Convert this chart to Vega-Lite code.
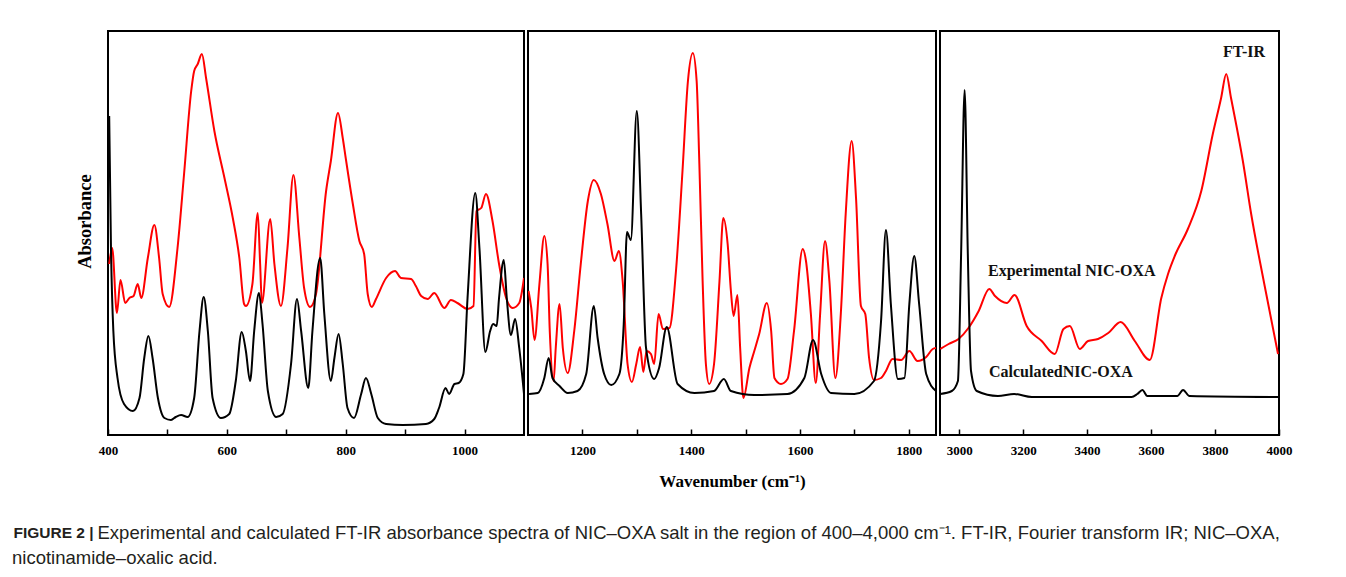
{
  "$schema": "https://vega.github.io/schema/vega-lite/v6.json",
  "background": "white",
  "padding": {"left": 12, "top": 30, "right": 5, "bottom": 5},
  "datasets": {
    "p1": [
      {"w":402,"a":171,"s":"Experimental"},{"w":407,"a":187,"s":"Experimental"},{"w":415,"a":122,"s":"Experimental"},{"w":421,"a":155,"s":"Experimental"},{"w":429,"a":132,"s":"Experimental"},{"w":436,"a":137,"s":"Experimental"},{"w":443,"a":139,"s":"Experimental"},{"w":450,"a":151,"s":"Experimental"},{"w":456,"a":137,"s":"Experimental"},{"w":467,"a":177,"s":"Experimental"},{"w":478,"a":210,"s":"Experimental"},{"w":486,"a":177,"s":"Experimental"},{"w":492,"a":141,"s":"Experimental"},{"w":503,"a":128,"s":"Experimental"},{"w":517,"a":187,"s":"Experimental"},{"w":528,"a":261,"s":"Experimental"},{"w":540,"a":344,"s":"Experimental"},{"w":545,"a":364,"s":"Experimental"},{"w":551,"a":371,"s":"Experimental"},{"w":558,"a":381,"s":"Experimental"},{"w":565,"a":357,"s":"Experimental"},{"w":579,"a":304,"s":"Experimental"},{"w":596,"a":257,"s":"Experimental"},{"w":610,"a":217,"s":"Experimental"},{"w":621,"a":177,"s":"Experimental"},{"w":629,"a":131,"s":"Experimental"},{"w":632,"a":129,"s":"Experimental"},{"w":643,"a":151,"s":"Experimental"},{"w":652,"a":222,"s":"Experimental"},{"w":656,"a":171,"s":"Experimental"},{"w":659,"a":132,"s":"Experimental"},{"w":673,"a":216,"s":"Experimental"},{"w":680,"a":171,"s":"Experimental"},{"w":691,"a":129,"s":"Experimental"},{"w":702,"a":187,"s":"Experimental"},{"w":712,"a":260,"s":"Experimental"},{"w":722,"a":197,"s":"Experimental"},{"w":730,"a":147,"s":"Experimental"},{"w":740,"a":128,"s":"Experimental"},{"w":750,"a":141,"s":"Experimental"},{"w":767,"a":244,"s":"Experimental"},{"w":775,"a":274,"s":"Experimental"},{"w":787,"a":322,"s":"Experimental"},{"w":795,"a":297,"s":"Experimental"},{"w":800,"a":277,"s":"Experimental"},{"w":812,"a":231,"s":"Experimental"},{"w":823,"a":194,"s":"Experimental"},{"w":831,"a":181,"s":"Experimental"},{"w":837,"a":141,"s":"Experimental"},{"w":844,"a":128,"s":"Experimental"},{"w":851,"a":136,"s":"Experimental"},{"w":868,"a":157,"s":"Experimental"},{"w":883,"a":164,"s":"Experimental"},{"w":893,"a":157,"s":"Experimental"},{"w":910,"a":156,"s":"Experimental"},{"w":918,"a":149,"s":"Experimental"},{"w":927,"a":139,"s":"Experimental"},{"w":938,"a":136,"s":"Experimental"},{"w":949,"a":142,"s":"Experimental"},{"w":966,"a":127,"s":"Experimental"},{"w":977,"a":135,"s":"Experimental"},{"w":988,"a":132,"s":"Experimental"},{"w":1005,"a":126,"s":"Experimental"},{"w":1015,"a":129,"s":"Experimental"},{"w":1020,"a":224,"s":"Experimental"},{"w":1028,"a":227,"s":"Experimental"},{"w":1036,"a":241,"s":"Experimental"},{"w":1047,"a":214,"s":"Experimental"},{"w":1058,"a":171,"s":"Experimental"},{"w":1070,"a":137,"s":"Experimental"},{"w":1081,"a":127,"s":"Experimental"},{"w":1092,"a":132,"s":"Experimental"},{"w":1100,"a":157,"s":"Experimental"},
      {"w":402,"a":319,"s":"Calculated"},{"w":405,"a":187,"s":"Calculated"},{"w":409,"a":104,"s":"Calculated"},{"w":416,"a":57,"s":"Calculated"},{"w":427,"a":31,"s":"Calculated"},{"w":442,"a":24,"s":"Calculated"},{"w":453,"a":37,"s":"Calculated"},{"w":461,"a":77,"s":"Calculated"},{"w":468,"a":99,"s":"Calculated"},{"w":475,"a":77,"s":"Calculated"},{"w":484,"a":37,"s":"Calculated"},{"w":495,"a":17,"s":"Calculated"},{"w":506,"a":15,"s":"Calculated"},{"w":514,"a":18,"s":"Calculated"},{"w":523,"a":20,"s":"Calculated"},{"w":534,"a":18,"s":"Calculated"},{"w":545,"a":37,"s":"Calculated"},{"w":554,"a":104,"s":"Calculated"},{"w":561,"a":138,"s":"Calculated"},{"w":568,"a":104,"s":"Calculated"},{"w":576,"a":37,"s":"Calculated"},{"w":590,"a":17,"s":"Calculated"},{"w":604,"a":21,"s":"Calculated"},{"w":615,"a":54,"s":"Calculated"},{"w":625,"a":103,"s":"Calculated"},{"w":632,"a":84,"s":"Calculated"},{"w":639,"a":54,"s":"Calculated"},{"w":646,"a":104,"s":"Calculated"},{"w":654,"a":142,"s":"Calculated"},{"w":660,"a":111,"s":"Calculated"},{"w":669,"a":44,"s":"Calculated"},{"w":683,"a":18,"s":"Calculated"},{"w":694,"a":21,"s":"Calculated"},{"w":708,"a":71,"s":"Calculated"},{"w":718,"a":136,"s":"Calculated"},{"w":725,"a":104,"s":"Calculated"},{"w":737,"a":47,"s":"Calculated"},{"w":744,"a":104,"s":"Calculated"},{"w":757,"a":177,"s":"Calculated"},{"w":764,"a":121,"s":"Calculated"},{"w":775,"a":54,"s":"Calculated"},{"w":781,"a":77,"s":"Calculated"},{"w":788,"a":101,"s":"Calculated"},{"w":795,"a":71,"s":"Calculated"},{"w":803,"a":27,"s":"Calculated"},{"w":814,"a":17,"s":"Calculated"},{"w":826,"a":41,"s":"Calculated"},{"w":834,"a":57,"s":"Calculated"},{"w":843,"a":41,"s":"Calculated"},{"w":854,"a":17,"s":"Calculated"},{"w":868,"a":11,"s":"Calculated"},{"w":896,"a":10,"s":"Calculated"},{"w":935,"a":11,"s":"Calculated"},{"w":949,"a":16,"s":"Calculated"},{"w":957,"a":27,"s":"Calculated"},{"w":968,"a":47,"s":"Calculated"},{"w":974,"a":41,"s":"Calculated"},{"w":983,"a":51,"s":"Calculated"},{"w":990,"a":52,"s":"Calculated"},{"w":998,"a":61,"s":"Calculated"},{"w":1005,"a":137,"s":"Calculated"},{"w":1018,"a":242,"s":"Calculated"},{"w":1025,"a":187,"s":"Calculated"},{"w":1035,"a":83,"s":"Calculated"},{"w":1043,"a":104,"s":"Calculated"},{"w":1048,"a":111,"s":"Calculated"},{"w":1054,"a":109,"s":"Calculated"},{"w":1058,"a":137,"s":"Calculated"},{"w":1066,"a":175,"s":"Calculated"},{"w":1071,"a":137,"s":"Calculated"},{"w":1078,"a":100,"s":"Calculated"},{"w":1085,"a":116,"s":"Calculated"},{"w":1092,"a":87,"s":"Calculated"},{"w":1100,"a":41,"s":"Calculated"}
    ],
    "p2": [
      {"w":1101,"a":144,"s":"Experimental"},{"w":1106,"a":127,"s":"Experimental"},{"w":1112,"a":95,"s":"Experimental"},{"w":1121,"a":151,"s":"Experimental"},{"w":1130,"a":199,"s":"Experimental"},{"w":1136,"a":171,"s":"Experimental"},{"w":1140,"a":104,"s":"Experimental"},{"w":1147,"a":54,"s":"Experimental"},{"w":1151,"a":87,"s":"Experimental"},{"w":1158,"a":131,"s":"Experimental"},{"w":1164,"a":87,"s":"Experimental"},{"w":1173,"a":62,"s":"Experimental"},{"w":1185,"a":104,"s":"Experimental"},{"w":1197,"a":171,"s":"Experimental"},{"w":1210,"a":234,"s":"Experimental"},{"w":1221,"a":255,"s":"Experimental"},{"w":1234,"a":241,"s":"Experimental"},{"w":1246,"a":211,"s":"Experimental"},{"w":1259,"a":174,"s":"Experimental"},{"w":1267,"a":184,"s":"Experimental"},{"w":1274,"a":154,"s":"Experimental"},{"w":1283,"a":71,"s":"Experimental"},{"w":1291,"a":53,"s":"Experimental"},{"w":1299,"a":71,"s":"Experimental"},{"w":1306,"a":88,"s":"Experimental"},{"w":1312,"a":63,"s":"Experimental"},{"w":1318,"a":84,"s":"Experimental"},{"w":1326,"a":81,"s":"Experimental"},{"w":1332,"a":71,"s":"Experimental"},{"w":1340,"a":121,"s":"Experimental"},{"w":1348,"a":106,"s":"Experimental"},{"w":1360,"a":107,"s":"Experimental"},{"w":1372,"a":164,"s":"Experimental"},{"w":1384,"a":264,"s":"Experimental"},{"w":1394,"a":354,"s":"Experimental"},{"w":1403,"a":382,"s":"Experimental"},{"w":1410,"a":354,"s":"Experimental"},{"w":1415,"a":271,"s":"Experimental"},{"w":1421,"a":154,"s":"Experimental"},{"w":1427,"a":71,"s":"Experimental"},{"w":1433,"a":51,"s":"Experimental"},{"w":1442,"a":71,"s":"Experimental"},{"w":1452,"a":154,"s":"Experimental"},{"w":1459,"a":217,"s":"Experimental"},{"w":1467,"a":191,"s":"Experimental"},{"w":1473,"a":144,"s":"Experimental"},{"w":1478,"a":119,"s":"Experimental"},{"w":1485,"a":140,"s":"Experimental"},{"w":1490,"a":87,"s":"Experimental"},{"w":1496,"a":37,"s":"Experimental"},{"w":1507,"a":67,"s":"Experimental"},{"w":1516,"a":84,"s":"Experimental"},{"w":1525,"a":101,"s":"Experimental"},{"w":1539,"a":132,"s":"Experimental"},{"w":1547,"a":104,"s":"Experimental"},{"w":1553,"a":57,"s":"Experimental"},{"w":1565,"a":51,"s":"Experimental"},{"w":1577,"a":56,"s":"Experimental"},{"w":1589,"a":104,"s":"Experimental"},{"w":1605,"a":186,"s":"Experimental"},{"w":1611,"a":174,"s":"Experimental"},{"w":1620,"a":121,"s":"Experimental"},{"w":1629,"a":52,"s":"Experimental"},{"w":1637,"a":121,"s":"Experimental"},{"w":1646,"a":194,"s":"Experimental"},{"w":1654,"a":154,"s":"Experimental"},{"w":1665,"a":57,"s":"Experimental"},{"w":1675,"a":121,"s":"Experimental"},{"w":1684,"a":221,"s":"Experimental"},{"w":1695,"a":294,"s":"Experimental"},{"w":1703,"a":237,"s":"Experimental"},{"w":1712,"a":129,"s":"Experimental"},{"w":1720,"a":121,"s":"Experimental"},{"w":1727,"a":77,"s":"Experimental"},{"w":1736,"a":55,"s":"Experimental"},{"w":1749,"a":57,"s":"Experimental"},{"w":1758,"a":64,"s":"Experimental"},{"w":1770,"a":76,"s":"Experimental"},{"w":1786,"a":75,"s":"Experimental"},{"w":1801,"a":84,"s":"Experimental"},{"w":1816,"a":74,"s":"Experimental"},{"w":1832,"a":78,"s":"Experimental"},{"w":1844,"a":86,"s":"Experimental"},{"w":1850,"a":87,"s":"Experimental"},
      {"w":1102,"a":41,"s":"Calculated"},{"w":1118,"a":42,"s":"Calculated"},{"w":1130,"a":57,"s":"Calculated"},{"w":1138,"a":77,"s":"Calculated"},{"w":1145,"a":57,"s":"Calculated"},{"w":1158,"a":49,"s":"Calculated"},{"w":1173,"a":42,"s":"Calculated"},{"w":1191,"a":44,"s":"Calculated"},{"w":1207,"a":61,"s":"Calculated"},{"w":1221,"a":129,"s":"Calculated"},{"w":1228,"a":97,"s":"Calculated"},{"w":1240,"a":61,"s":"Calculated"},{"w":1253,"a":50,"s":"Calculated"},{"w":1268,"a":61,"s":"Calculated"},{"w":1276,"a":111,"s":"Calculated"},{"w":1282,"a":203,"s":"Calculated"},{"w":1289,"a":195,"s":"Calculated"},{"w":1300,"a":324,"s":"Calculated"},{"w":1308,"a":221,"s":"Calculated"},{"w":1317,"a":87,"s":"Calculated"},{"w":1332,"a":56,"s":"Calculated"},{"w":1341,"a":67,"s":"Calculated"},{"w":1355,"a":108,"s":"Calculated"},{"w":1375,"a":51,"s":"Calculated"},{"w":1406,"a":42,"s":"Calculated"},{"w":1442,"a":44,"s":"Calculated"},{"w":1460,"a":56,"s":"Calculated"},{"w":1473,"a":44,"s":"Calculated"},{"w":1516,"a":40,"s":"Calculated"},{"w":1577,"a":41,"s":"Calculated"},{"w":1608,"a":57,"s":"Calculated"},{"w":1624,"a":95,"s":"Calculated"},{"w":1639,"a":61,"s":"Calculated"},{"w":1657,"a":42,"s":"Calculated"},{"w":1700,"a":41,"s":"Calculated"},{"w":1736,"a":54,"s":"Calculated"},{"w":1749,"a":114,"s":"Calculated"},{"w":1758,"a":205,"s":"Calculated"},{"w":1767,"a":131,"s":"Calculated"},{"w":1780,"a":56,"s":"Calculated"},{"w":1792,"a":57,"s":"Calculated"},{"w":1801,"a":131,"s":"Calculated"},{"w":1810,"a":179,"s":"Calculated"},{"w":1819,"a":131,"s":"Calculated"},{"w":1832,"a":61,"s":"Calculated"},{"w":1850,"a":44,"s":"Calculated"}
    ],
    "p3": [
      {"w":2941,"a":86,"s":"Experimental"},{"w":2967,"a":91,"s":"Experimental"},{"w":2998,"a":96,"s":"Experimental"},{"w":3029,"a":107,"s":"Experimental"},{"w":3061,"a":124,"s":"Experimental"},{"w":3094,"a":146,"s":"Experimental"},{"w":3112,"a":139,"s":"Experimental"},{"w":3149,"a":132,"s":"Experimental"},{"w":3173,"a":140,"s":"Experimental"},{"w":3211,"a":109,"s":"Experimental"},{"w":3258,"a":94,"s":"Experimental"},{"w":3299,"a":81,"s":"Experimental"},{"w":3326,"a":106,"s":"Experimental"},{"w":3346,"a":109,"s":"Experimental"},{"w":3377,"a":86,"s":"Experimental"},{"w":3403,"a":94,"s":"Experimental"},{"w":3434,"a":96,"s":"Experimental"},{"w":3466,"a":102,"s":"Experimental"},{"w":3505,"a":113,"s":"Experimental"},{"w":3549,"a":94,"s":"Experimental"},{"w":3596,"a":75,"s":"Experimental"},{"w":3632,"a":137,"s":"Experimental"},{"w":3653,"a":161,"s":"Experimental"},{"w":3674,"a":179,"s":"Experimental"},{"w":3715,"a":206,"s":"Experimental"},{"w":3757,"a":244,"s":"Experimental"},{"w":3793,"a":301,"s":"Experimental"},{"w":3819,"a":337,"s":"Experimental"},{"w":3835,"a":361,"s":"Experimental"},{"w":3850,"a":337,"s":"Experimental"},{"w":3887,"a":274,"s":"Experimental"},{"w":3913,"a":221,"s":"Experimental"},{"w":3954,"a":151,"s":"Experimental"},{"w":3997,"a":81,"s":"Experimental"},
      {"w":2941,"a":41,"s":"Calculated"},{"w":2977,"a":44,"s":"Calculated"},{"w":2996,"a":54,"s":"Calculated"},{"w":3006,"a":181,"s":"Calculated"},{"w":3017,"a":345,"s":"Calculated"},{"w":3027,"a":181,"s":"Calculated"},{"w":3037,"a":64,"s":"Calculated"},{"w":3055,"a":44,"s":"Calculated"},{"w":3121,"a":39,"s":"Calculated"},{"w":3172,"a":41,"s":"Calculated"},{"w":3227,"a":38,"s":"Calculated"},{"w":3539,"a":38,"s":"Calculated"},{"w":3557,"a":41,"s":"Calculated"},{"w":3573,"a":45,"s":"Calculated"},{"w":3588,"a":39,"s":"Calculated"},{"w":3682,"a":39,"s":"Calculated"},{"w":3700,"a":45,"s":"Calculated"},{"w":3720,"a":39,"s":"Calculated"},{"w":3997,"a":38,"s":"Calculated"}
    ],
    "labels": [
      {"w":3825,"a":383,"t":"FT-IR"},
      {"w":3090,"a":164,"t":"Experimental NIC-OXA"},
      {"w":3093,"a":63,"t":"CalculatedNIC-OXA"}
    ]
  },
  "title": {
    "text": "nicotinamide–oxalic acid.",
    "orient": "bottom",
    "anchor": "start",
    "frame": "bounds",
    "offset": 6,
    "font": "Liberation Sans",
    "fontSize": 18.5,
    "fontWeight": "normal",
    "color": "#231f20"
  },
  "bounds": "flush",
  "spacing": 4,
  "hconcat": [
    {
      "width": 416,
      "height": 404,
      "data": {"name": "p1"},
      "mark": {"type": "line", "interpolate": "monotone", "strokeWidth": 2, "clip": true},
      "encoding": {
        "x": {"field": "w", "type": "quantitative", "scale": {"domain": [400, 1100], "nice": false, "zero": false},
              "axis": {"values": [400, 500, 600, 700, 800, 900, 1000], "format": "d", "labelExpr": "datum.value % 200 === 0 ? datum.label : ''",
                       "title": "FIGURE 2 |", "titleFont": "Liberation Sans", "titleFontSize": 15.5, "titleFontWeight": "bold", "titleColor": "#231f20",
                       "titleX": -95, "titleY": 97, "titleAlign": "left", "titleBaseline": "middle"}},
        "y": {"field": "a", "type": "quantitative", "scale": {"domain": [0, 404], "nice": false},
              "axis": {"title": "Absorbance", "labels": false, "ticks": false, "domain": false, "grid": false, "titlePadding": 14, "titleFontSize": 18.5, "titleY": 190}},
        "color": {"field": "s", "type": "nominal", "scale": {"domain": ["Experimental", "Calculated"], "range": ["#ff0000", "#000000"]}, "legend": null}
      }
    },
    {
      "width": 408,
      "height": 404,
      "data": {"name": "p2"},
      "mark": {"type": "line", "interpolate": "monotone", "strokeWidth": 2, "clip": true},
      "encoding": {
        "x": {"field": "w", "type": "quantitative", "scale": {"domain": [1100, 1850], "nice": false, "zero": false},
              "axis": {"title": "Wavenumber (cm⁻¹)", "titleFontSize": 17, "titlePadding": 16, "values": [1200, 1300, 1400, 1500, 1600, 1700, 1800], "format": "d", "labelExpr": "datum.value % 200 === 0 ? datum.label : ''"}},
        "y": {"field": "a", "type": "quantitative", "scale": {"domain": [0, 404], "nice": false}, "axis": null},
        "color": {"field": "s", "type": "nominal", "scale": {"domain": ["Experimental", "Calculated"], "range": ["#ff0000", "#000000"]}, "legend": null}
      }
    },
    {
      "width": 339,
      "height": 404,
      "layer": [
        {
          "data": {"name": "p3"},
          "mark": {"type": "line", "interpolate": "monotone", "strokeWidth": 2, "clip": true},
          "encoding": {
            "x": {"field": "w", "type": "quantitative", "scale": {"domain": [2940, 4000], "nice": false, "zero": false},
                  "axis": {"values": [3000, 3100, 3200, 3300, 3400, 3500, 3600, 3700, 3800, 3900, 4000], "format": "d", "labelExpr": "datum.value % 200 === 0 ? datum.label : ''",
                           "title": "Experimental and calculated FT-IR absorbance spectra of NIC–OXA salt in the region of 400–4,000 cm⁻¹. FT-IR, Fourier transform IR; NIC–OXA,",
                           "titleFont": "Liberation Sans", "titleFontSize": 18.5, "titleFontWeight": "normal", "titleColor": "#231f20",
                           "titleX": -843, "titleY": 97, "titleAlign": "left", "titleBaseline": "middle", "titleLimit": 2000}},
            "y": {"field": "a", "type": "quantitative", "scale": {"domain": [0, 404], "nice": false}, "axis": null},
            "color": {"field": "s", "type": "nominal", "scale": {"domain": ["Experimental", "Calculated"], "range": ["#ff0000", "#000000"]}, "legend": null}
          }
        },
        {
          "data": {"name": "labels"},
          "mark": {"type": "text", "align": "left", "baseline": "middle", "font": "Liberation Serif", "fontWeight": "bold", "fontSize": 16, "color": "#111111"},
          "encoding": {
            "x": {"field": "w", "type": "quantitative"},
            "y": {"field": "a", "type": "quantitative"},
            "text": {"field": "t"}
          }
        }
      ]
    }
  ],
  "config": {
    "view": {"stroke": "#000000", "strokeWidth": 2},
    "axis": {
      "labelFont": "Liberation Serif", "labelFontWeight": "bold", "labelFontSize": 13, "labelColor": "#000000",
      "titleFont": "Liberation Serif", "titleFontWeight": "bold", "titleColor": "#000000",
      "tickColor": "#000000", "tickSize": -6, "tickWidth": 1.5,
      "domain": false, "grid": false, "labelFlush": false, "labelOverlap": false, "labelPadding": 15
    }
  }
}
